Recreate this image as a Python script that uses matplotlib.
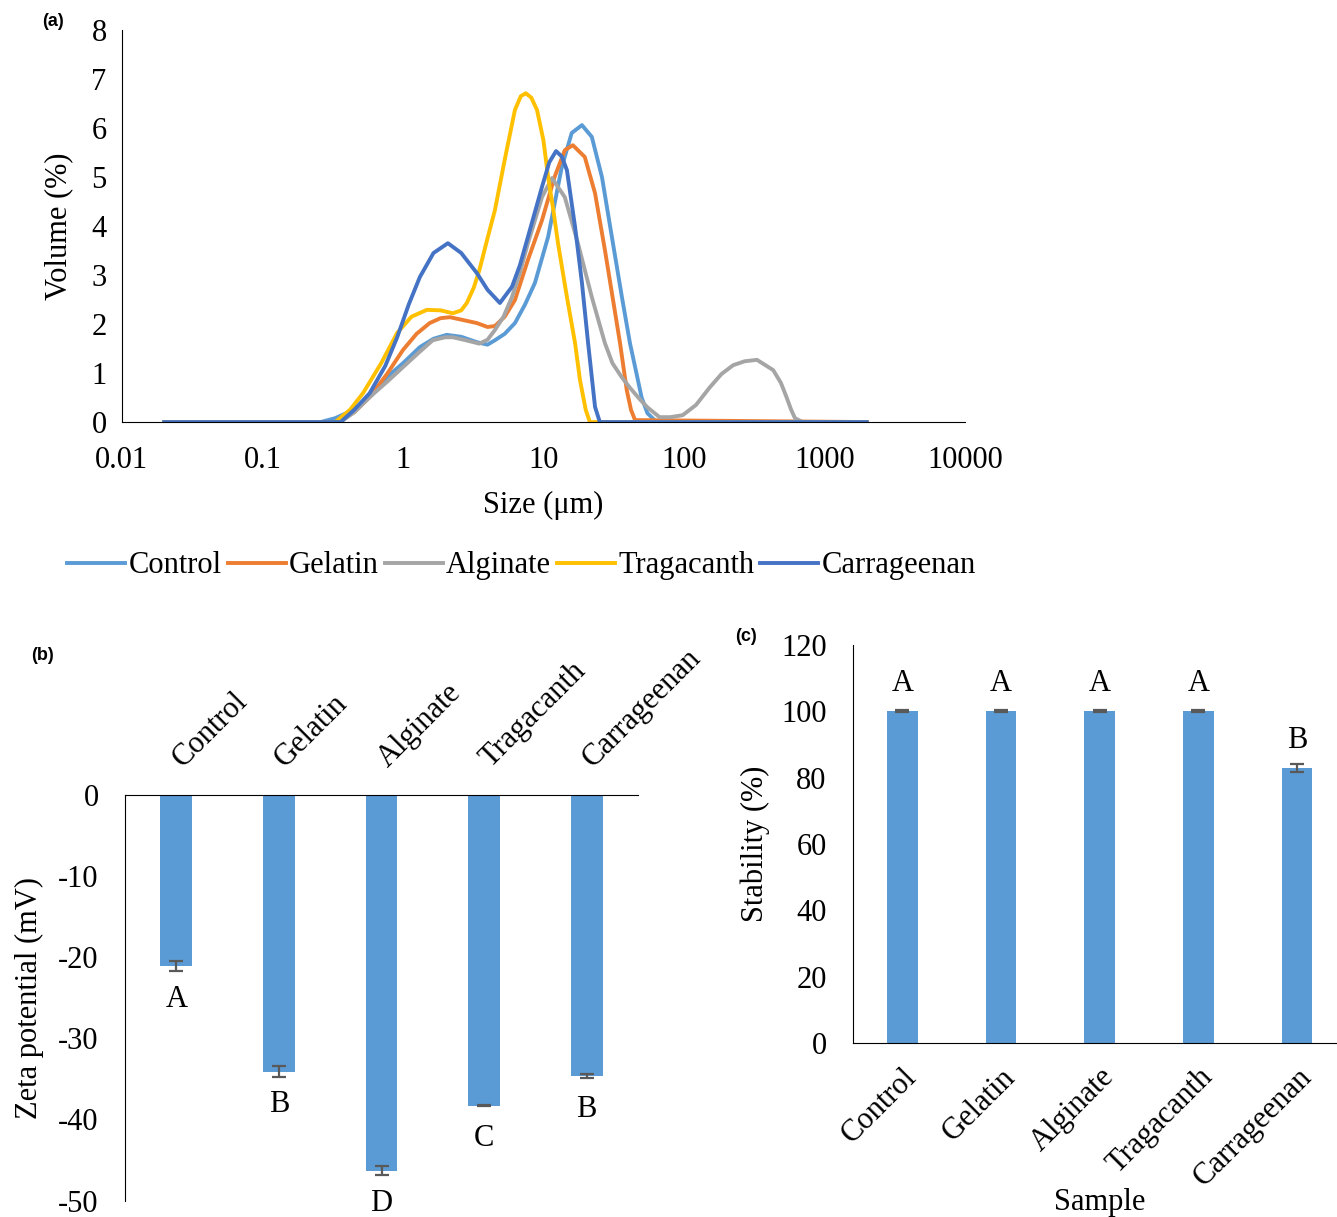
import numpy as np
import matplotlib.pyplot as plt
from matplotlib.transforms import ScaledTranslation

plt.rcParams['font.family'] = ['Liberation Serif', 'DejaVu Serif']
plt.rcParams['font.size'] = 22
plt.rcParams['axes.unicode_minus'] = False

# (a) particle size distribution, size in um, volume in %
control_x = [0.02, 0.26, 0.33, 0.44, 0.6, 0.77, 1.0, 1.32, 1.65, 2.05, 2.6, 3.36, 4.0, 4.52, 5.3, 6.27, 7.4, 8.7,
             10.8, 12.0, 13.5, 15.9, 18.8, 22.1, 26.1, 30.7, 36.2, 41.3, 46.3, 50, 55, 64, 2000]
control_y = [0, 0, 0.08, 0.24, 0.55, 0.92, 1.2, 1.53, 1.7, 1.78, 1.74, 1.63, 1.58, 1.67, 1.8, 2.02, 2.4, 2.84,
             3.78, 4.45, 5.2, 5.9, 6.06, 5.82, 5.0, 3.78, 2.55, 1.61, 0.95, 0.5, 0.18, 0, 0]

gelatin_x = [0.02, 0.34, 0.45, 0.58, 0.77, 1.0, 1.25, 1.55, 1.85, 2.16, 2.7, 3.36, 4.0, 4.52, 5.3, 6.27, 7.76,
             9.77, 12.0, 14.2, 16.2, 19.7, 23.3, 27.4, 31.3, 35.1, 39.2, 42, 44.9, 2000]
gelatin_y = [0, 0, 0.2, 0.51, 0.98, 1.47, 1.8, 2.02, 2.12, 2.14, 2.08, 2.02, 1.94, 1.96, 2.15, 2.49, 3.31,
             4.12, 5.0, 5.55, 5.65, 5.41, 4.67, 3.51, 2.49, 1.61, 0.65, 0.25, 0.04, 0]

alginate_x = [0.02, 0.36, 0.45, 0.58, 0.77, 1.0, 1.3, 1.63, 2.0, 2.27, 2.8, 3.5, 4.0, 4.52, 5.2, 5.97, 6.8, 7.76,
              9.77, 11.5, 14.2, 17.6, 22.1, 27.4, 31, 36, 41, 48, 55, 67, 80, 98, 122, 153, 185, 224, 270, 331,
              432, 490, 537, 580, 617, 700, 2000]
alginate_y = [0, 0, 0.2, 0.51, 0.82, 1.12, 1.42, 1.67, 1.73, 1.73, 1.67, 1.6, 1.68, 1.88, 2.15, 2.55, 3.05, 3.65,
              4.59, 4.98, 4.59, 3.65, 2.55, 1.61, 1.2, 0.92, 0.71, 0.48, 0.3, 0.1, 0.1, 0.14, 0.35, 0.71, 0.98,
              1.16, 1.24, 1.27, 1.06, 0.8, 0.51, 0.25, 0.08, 0, 0]

tragacanth_x = [0.02, 0.33, 0.42, 0.52, 0.7, 0.91, 1.15, 1.48, 1.85, 2.27, 2.6, 2.85, 3.2, 3.5, 4.0, 4.52, 5.3,
                6.27, 6.9, 7.5, 8.2, 9.0, 10.0, 10.8, 11.8, 12.7, 14.7, 16.8, 18.2, 20, 21.4, 2000]
tragacanth_y = [0, 0, 0.25, 0.59, 1.2, 1.82, 2.15, 2.29, 2.28, 2.22, 2.28, 2.43, 2.75, 3.1, 3.75, 4.33, 5.35,
                6.37, 6.65, 6.71, 6.62, 6.37, 5.75, 5.0, 4.3, 3.65, 2.55, 1.61, 0.86, 0.25, 0, 0]

carrageenan_x = [0.02, 0.36, 0.45, 0.58, 0.75, 0.91, 1.1, 1.32, 1.65, 2.09, 2.6, 3.36, 4.0, 4.9, 5.97, 6.8, 7.76,
                 9.77, 11.0, 12.3, 13.5, 14.7, 16.8, 18.8, 20.8, 23.3, 25.2, 2000]
carrageenan_y = [0, 0, 0.25, 0.59, 1.15, 1.73, 2.4, 2.96, 3.45, 3.65, 3.45, 3.04, 2.7, 2.43, 2.76, 3.2, 3.78,
                 4.8, 5.3, 5.53, 5.42, 5.14, 3.98, 2.84, 1.61, 0.31, 0, 0]

samples = ['Control', 'Gelatin', 'Alginate', 'Tragacanth', 'Carrageenan']

# (b) zeta potential
zeta = [-21.1, -34.1, -46.3, -38.3, -34.7]
zeta_err = [0.65, 0.65, 0.6, 0.1, 0.25]
zeta_letters = ['A', 'B', 'D', 'C', 'B']

# (c) stability
stability = [100, 100, 100, 100, 82.9]
stability_err = [0.3, 0.3, 0.3, 0.3, 1.1]
stability_letters = ['A', 'A', 'A', 'A', 'B']

colors = ['#5B9BD5', '#ED7D31', '#A5A5A5', '#FFC000', '#4472C4']
bar_color = '#5B9BD5'
err_color = '#595959'

fig = plt.figure(figsize=(13.37, 12.17), dpi=100)

# ---- (a)
ax1 = fig.add_axes([0.0912, 0.6532, 0.6305, 0.3221])
series = [(control_x, control_y), (gelatin_x, gelatin_y), (alginate_x, alginate_y),
          (tragacanth_x, tragacanth_y), (carrageenan_x, carrageenan_y)]
for (sx, sy), c, name in zip(series, colors, samples):
    ax1.plot(sx, sy, color=c, lw=2.8, label=name, solid_joinstyle='round')
ax1.set_xscale('log')
ax1.set_xlim(0.01, 10000)
ax1.set_ylim(0, 8)
ax1.set_xticks([0.01, 0.1, 1, 10, 100, 1000, 10000])
ax1.set_xticklabels(['0.01', '0.1', '1', '10', '100', '1000', '10000'])
ax1.minorticks_off()
ax1.set_yticks(range(0, 9))
ax1.tick_params(axis='y', length=0, pad=11)
ax1.tick_params(axis='x', length=0, pad=17)
ax1.spines['top'].set_visible(False)
ax1.spines['right'].set_visible(False)
ax1.set_xlabel('Size (\u03bcm)', labelpad=12)
ax1.set_ylabel('Volume (%)', labelpad=13)
fig.legend(loc='center', bbox_to_anchor=(0.39, 0.535), ncol=5, frameon=False,
           handlelength=1.9, handletextpad=0.1, columnspacing=0.2, fontsize=22)
fig.text(0.040, 0.982, '(a)', family='Liberation Sans', weight='bold', fontsize=13, va='center', ha='center')

# ---- (b)
ax2 = fig.add_axes([0.0935, 0.0135, 0.3837, 0.3333])
pos = np.arange(len(samples))
ax2.bar(pos, zeta, width=0.31, color=bar_color)
ax2.errorbar(pos, zeta, yerr=zeta_err, fmt='none', ecolor=err_color, elinewidth=1.6, capsize=5, capthick=1.6)
for i in range(len(samples)):
    ax2.annotate(zeta_letters[i], xy=(pos[i], zeta[i]), xytext=(0, -33), textcoords='offset pixels',
                 ha='center', va='center', annotation_clip=False)
    ax2.annotate(samples[i], xy=(pos[i], 0), xytext=(11, 22), textcoords='offset pixels',
                 ha='left', va='bottom', rotation=45, rotation_mode='anchor', annotation_clip=False)
ax2.set_xlim(-0.5, 4.5)
ax2.set_ylim(-50, 0)
ax2.set_xticks([])
ax2.set_yticks(range(-50, 1, 10))
ax2.tick_params(length=0, pad=19)
ax2.spines['bottom'].set_visible(False)
ax2.spines['right'].set_visible(False)
ax2.set_ylabel('Zeta potential (mV)', labelpad=10)
fig.text(0.032, 0.461, '(b)', family='Liberation Sans', weight='bold', fontsize=13, va='center', ha='center')

# ---- (c)
ax3 = fig.add_axes([0.638, 0.1430, 0.3691, 0.3270])
ax3.bar(pos, stability, width=0.31, color=bar_color)
ax3.errorbar(pos, stability, yerr=stability_err, fmt='none', ecolor=err_color, elinewidth=1.6, capsize=5, capthick=1.6)
for i in range(len(samples)):
    ax3.annotate(stability_letters[i], xy=(pos[i], stability[i]), xytext=(0, 28), textcoords='offset pixels',
                 ha='center', va='center', annotation_clip=False)
ax3.set_xlim(-0.5, 4.5)
ax3.set_ylim(0, 120)
ax3.set_xticks(pos)
ax3.set_xticklabels(samples, rotation=45, ha='right', rotation_mode='anchor')
shift = ScaledTranslation(-5 / 100, 0, fig.dpi_scale_trans)
for lbl in ax3.get_xticklabels():
    lbl.set_transform(lbl.get_transform() + shift)
ax3.set_yticks(range(0, 121, 20))
ax3.tick_params(axis='y', length=0, pad=19)
ax3.tick_params(axis='x', length=0, pad=14)
ax3.spines['top'].set_visible(False)
ax3.spines['right'].set_visible(False)
ax3.set_xlabel('Sample')
ax3.xaxis.set_label_coords(0.5, -0.365)
ax3.set_ylabel('Stability (%)', labelpad=8)
fig.text(0.558, 0.477, '(c)', family='Liberation Sans', weight='bold', fontsize=13, va='center', ha='center')

fig.savefig('out.png', dpi=100)
